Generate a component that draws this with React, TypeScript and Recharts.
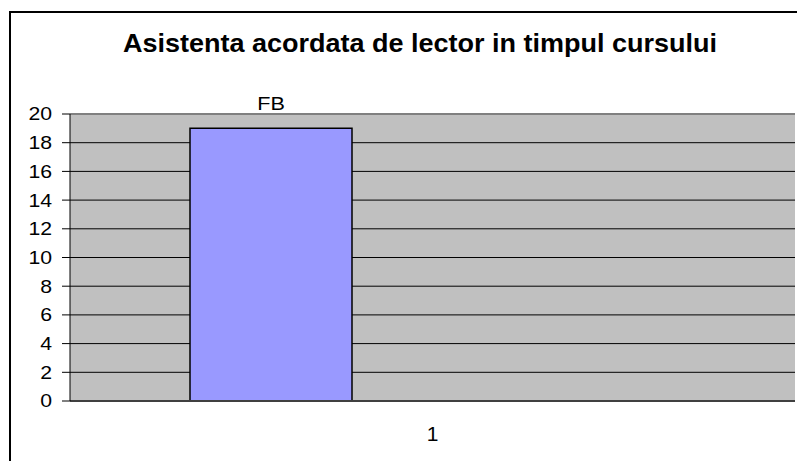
import React from 'react';
import { BarChart, Bar, XAxis, YAxis, CartesianGrid, LabelList } from 'recharts';

const categories = ['1'];
const fbValues = [19];
const serie2Values = [0];
const serie3Values = [0];
const yTicks = [0, 2, 4, 6, 8, 10, 12, 14, 16, 18, 20];

const data = categories.map((name, i) => ({
    name,
    FB: fbValues[i],
    Serie2: serie2Values[i],
    Serie3: serie3Values[i],
}));

const FONT = '"Liberation Sans", Arial, sans-serif';

const YTick = ({ x, y, payload }: any) => (
    <g transform={`translate(${x},${y})`}>
        <text transform="scale(1.18,1)" textAnchor="end" dy="0.355em" fontSize={18} fontFamily={FONT} fill="#000">
            {payload.value}
        </text>
    </g>
);

const XTick = ({ x, y, payload }: any) => (
    <text x={x} y={y + 40} textAnchor="middle" fontSize={21} fontFamily={FONT} fill="#000">
        {payload.value}
    </text>
);

// grid line at the top of the plot is the gray plot border
const GridLine = (p: any) => {
    const isTop = Math.abs(p.y1 - p.y) < 1;
    return (
        <line
            x1={p.x1}
            y1={p.y1}
            x2={p.x2}
            y2={p.y2}
            stroke={isTop ? '#808080' : '#000'}
            strokeWidth={isTop ? 2 : 1}
        />
    );
};

const SeriesLabel = ({ x, y, width, value }: any) => (
    <g transform={`translate(${x + width / 2},${y - 18})`}>
        <text transform="scale(1.2,1)" textAnchor="middle" fontSize={18} fontFamily={FONT} fill="#000">
            {value}
        </text>
    </g>
);

const App: React.FC = () => {
    return (
        <div style={{ position: 'absolute', left: 0, top: 0, width: 797, height: 461, overflow: 'hidden', background: '#fff' }}>
            <div style={{ position: 'absolute', left: 9, top: 11, width: 820, height: 480, border: '2px solid #000', boxSizing: 'border-box' }} />
            <svg width={797} height={70} style={{ position: 'absolute', left: 0, top: 0 }}>
                <text x={420} y={52} textAnchor="middle" fontSize={25} fontWeight="bold" fontFamily={FONT} textLength={594} lengthAdjust="spacingAndGlyphs" fill="#000">
                    Asistenta acordata de lector in timpul cursului
                </text>
            </svg>
            <div style={{ position: 'absolute', left: 0, top: 0 }}>
                <BarChart
                    width={797}
                    height={461}
                    data={data}
                    margin={{ top: 114, right: 2, bottom: 0, left: 10 }}
                    barCategoryGap={120}
                    barGap={0}
                >
                    <CartesianGrid vertical={false} fill="#c0c0c0" fillOpacity={1} horizontal={GridLine} />
                    <XAxis
                        dataKey="name"
                        height={60}
                        tickSize={0}
                        tickMargin={0}
                        tickLine={false}
                        axisLine={{ stroke: '#404040', strokeWidth: 2 }}
                        tick={<XTick />}
                    />
                    <YAxis
                        width={60}
                        domain={[0, 20]}
                        ticks={yTicks}
                        interval={0}
                        tickSize={8}
                        tickMargin={10}
                        axisLine={{ stroke: '#000' }}
                        tickLine={{ stroke: '#000' }}
                        tick={<YTick />}
                    />
                    <YAxis
                        yAxisId="border"
                        orientation="right"
                        width={0}
                        domain={[0, 20]}
                        tick={false}
                        tickLine={false}
                        axisLine={{ stroke: '#808080', strokeWidth: 2 }}
                    />
                    <Bar dataKey="FB" fill="#9999ff" stroke="#000" strokeWidth={1.5} isAnimationActive={false}>
                        <LabelList dataKey="FB" content={(props: any) => <SeriesLabel {...props} value="FB" />} />
                    </Bar>
                    <Bar dataKey="Serie2" fill="#993366" stroke="#000" isAnimationActive={false} />
                    <Bar dataKey="Serie3" fill="#ffffcc" stroke="#000" isAnimationActive={false} />
                </BarChart>
            </div>
        </div>
    );
};

export default App;
